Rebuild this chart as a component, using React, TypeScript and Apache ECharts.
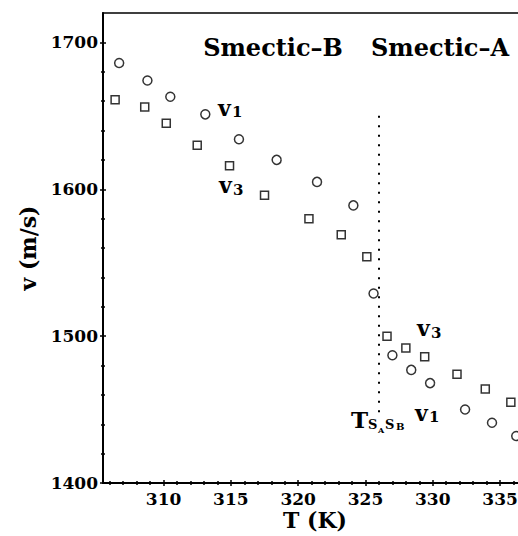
import React, { useEffect, useRef } from "react";
import * as echarts from "echarts";

// Data
const tempV1 = [306.7, 308.8, 310.5, 313.1, 315.6, 318.4, 321.4, 324.1, 325.6, 327.0, 328.4, 329.8, 332.4, 334.4, 336.2];
const velV1 = [1686, 1674, 1663, 1651, 1634, 1620, 1605, 1589, 1529, 1487, 1477, 1468, 1450, 1441, 1432];
const tempV3 = [306.4, 308.6, 310.2, 312.5, 314.9, 317.5, 320.8, 323.2, 325.1, 326.6, 328.0, 329.4, 331.8, 333.9, 335.8];
const velV3 = [1661, 1656, 1645, 1630, 1616, 1596, 1580, 1569, 1554, 1500, 1492, 1486, 1474, 1464, 1455];

const transitionT = 326;
const transitionRange = [1650, 1448];

const xMajorTicks = [310, 315, 320, 325, 330, 335];
const xMinorTicks = [306, 307, 308, 309, 311, 312, 313, 314, 316, 317, 318, 319, 321, 322, 323, 324, 326, 327, 328, 329, 331, 332, 333, 334, 336];
const yMajorTicks = [1400, 1500, 1600, 1700];
const yMinorTicks = [1420, 1440, 1460, 1480, 1520, 1540, 1560, 1580, 1620, 1640, 1660, 1680];

const X_MIN = 305.5;
const X_MAX = 337;
const Y_MIN = 1400;
const Y_MAX = 1720;

const FONT = "DejaVu Serif";
const CHART_W = 545;

export default function App() {
  const ref = useRef<HTMLDivElement>(null);
  useEffect(() => {
    if (!ref.current) return;
    const chart = echarts.init(ref.current, undefined, { renderer: "svg" });

    const mkX = (ticks: number[], inside: boolean, len: number, main: boolean) => ({
      type: "value",
      min: X_MIN,
      max: X_MAX,
      position: "bottom",
      splitLine: { show: false },
      axisLine: { show: main, onZero: false, lineStyle: { color: "#000", width: 2 } },
      axisTick: { show: true, customValues: ticks, inside, length: len, lineStyle: { color: "#000", width: 1.5 } },
      axisLabel: main
        ? {
            show: true,
            customValues: xMajorTicks,
            formatter: (v: number) => String(v),
            color: "#000",
            fontFamily: FONT,
            fontWeight: "bold",
            fontSize: 17,
            margin: 7,
          }
        : { show: false },
    });
    const mkY = (ticks: number[], inside: boolean, len: number, main: boolean) => ({
      type: "value",
      min: Y_MIN,
      max: Y_MAX,
      position: "left",
      splitLine: { show: false },
      axisLine: { show: main, onZero: false, lineStyle: { color: "#000", width: 2 } },
      axisTick: { show: true, customValues: ticks, inside, length: len, lineStyle: { color: "#000", width: 1.5 } },
      axisLabel: main
        ? {
            show: true,
            customValues: yMajorTicks,
            formatter: (v: number) => String(v),
            color: "#000",
            fontFamily: FONT,
            fontWeight: "bold",
            fontSize: 17,
            margin: 5,
          }
        : { show: false },
    });

    const txt = (x: number, y: number, text: string, size: number, align = "left") => ({
      type: "text",
      x,
      y,
      style: {
        text,
        fill: "#000",
        font: `bold ${size}px "${FONT}"`,
        align,
        verticalAlign: "middle",
      },
    });

    const plotW = Math.round((X_MAX - X_MIN) * 13.46);

    chart.setOption({
      animation: false,
      backgroundColor: "#fff",
      grid: {
        left: 103,
        top: 13,
        bottom: 53,
        right: CHART_W - 103 - plotW,
        show: true,
        borderColor: "#000",
        borderWidth: 1.5,
        containLabel: false,
      },
      xAxis: [
        mkX(xMajorTicks, false, 3, true),
        mkX(xMajorTicks, true, 3, false),
        mkX(xMinorTicks, false, 2, false),
        mkX(xMinorTicks, true, 2, false),
      ],
      yAxis: [
        mkY(yMajorTicks, false, 3, true),
        mkY(yMajorTicks, true, 3, false),
        mkY(yMinorTicks, false, 2, false),
        mkY(yMinorTicks, true, 2, false),
      ],
      series: [
        {
          name: "v1",
          type: "scatter",
          symbol: "circle",
          symbolSize: 9,
          itemStyle: { color: "#fff", borderColor: "#000", borderWidth: 1.5 },
          data: tempV1.map((t, i) => [t, velV1[i]]),
          markLine: {
            silent: true,
            symbol: "none",
            label: { show: false },
            lineStyle: { color: "#000", width: 2, type: [2, 7.5] },
            data: [[{ coord: [transitionT, transitionRange[0]] }, { coord: [transitionT, transitionRange[1]] }]],
          },
        },
        {
          name: "v3",
          type: "scatter",
          symbol: "rect",
          symbolSize: 8,
          itemStyle: { color: "#fff", borderColor: "#000", borderWidth: 1.5 },
          data: tempV3.map((t, i) => [t, velV3[i]]),
        },
      ],
      graphic: [
        txt(273, 47, "Smectic\u2013B", 24, "center"),
        txt(440, 47, "Smectic\u2013A", 24, "center"),
        // v1 upper
        txt(218, 108, "v", 22),
        txt(232, 112, "1", 15),
        // v3 upper
        txt(219, 185, "v", 22),
        txt(233, 190, "3", 15),
        // v3 lower
        txt(417, 328, "v", 22),
        txt(431, 333, "3", 15),
        // v1 lower
        txt(415, 413, "v", 22),
        txt(429, 417, "1", 15),
        // T_{SA SB}
        txt(351, 419, "T", 23),
        txt(368, 424, "S", 13),
        txt(378, 430, "A", 8),
        txt(385, 424, "S", 13),
        txt(396, 426, "B", 10),
        // axis names
        {
          type: "text",
          x: 28,
          y: 248,
          rotation: Math.PI / 2,
          style: { text: "v (m/s)", fill: "#000", font: `bold 22px "${FONT}"`, align: "center", verticalAlign: "middle" },
        },
        txt(315, 520, "T (K)", 22, "center"),
      ],
    });
    return () => chart.dispose();
  }, []);
  return (
    <div style={{ position: "fixed", left: 0, top: 0, width: 518, height: 536, overflow: "hidden", background: "#fff" }}>
      <div ref={ref} style={{ width: CHART_W, height: 536 }} />
    </div>
  );
}
